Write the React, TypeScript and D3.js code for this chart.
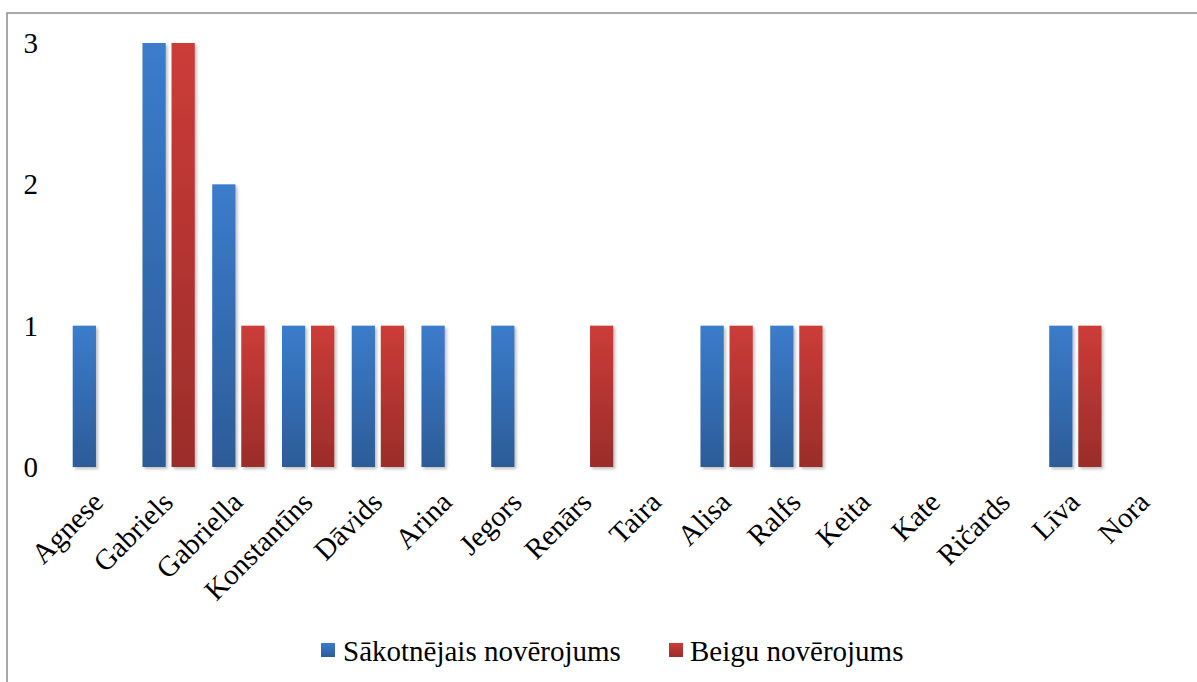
import React from "react";
import * as d3 from "d3";

const categories = ["Agnese", "Gabriels", "Gabriella", "Konstantīns", "Dāvids", "Arina", "Jegors", "Renārs", "Taira", "Alisa", "Ralfs", "Keita", "Kate", "Ričards", "Līva", "Nora"];
const seriesNames = ["Sākotnējais novērojums", "Beigu novērojums"];
const initialValues = [1, 3, 2, 1, 1, 1, 1, 0, 0, 1, 1, 0, 0, 0, 1, 0];
const finalValues = [0, 3, 1, 1, 1, 0, 0, 1, 0, 1, 1, 0, 0, 0, 1, 0];
const yTicks = [0, 1, 2, 3];

const W = 1197;
const H = 682;
const FS = 29;
const textStyle = { fontFamily: '"Liberation Serif", "Times New Roman", serif' };

export default function App() {
  const left = 64, right = 1180, top = 43, bottom = 467;
  const x = d3.scaleBand<string>().domain(categories).range([left, right]).padding(0);
  const xs = d3.scaleBand<string>().domain(["a", "b"]).range([0, x.bandwidth()]).paddingInner(0.2).paddingOuter(0.3);
  const y = d3.scaleLinear().domain([0, 3]).range([bottom, top]);
  const series = [
    { key: "a", name: seriesNames[0], values: initialValues, grad: "gBlue" },
    { key: "b", name: seriesNames[1], values: finalValues, grad: "gRed" },
  ];

  return (
    <svg width={W} height={H} style={{ position: "absolute", left: 0, top: 0, background: "#fff" }}>
      <defs>
        <linearGradient id="gBlue" x1="0" y1="0" x2="0" y2="1">
          <stop offset="0" stopColor="#3b7ccc" />
          <stop offset="1" stopColor="#2c5c98" />
        </linearGradient>
        <linearGradient id="gRed" x1="0" y1="0" x2="0" y2="1">
          <stop offset="0" stopColor="#cc3c38" />
          <stop offset="1" stopColor="#9a2d2a" />
        </linearGradient>
        <filter id="shadow" x="-30%" y="-10%" width="160%" height="130%">
          <feDropShadow dx="2" dy="2" stdDeviation="1.5" floodColor="#000" floodOpacity="0.25" />
        </filter>
      </defs>
      <rect x={7} y={13} width={W} height={H} fill="#fff" stroke="#8c8c8c" strokeWidth={1.5} />
      {yTicks.map((t) => (
        <g key={t}>
          <line x1={left} x2={right} y1={y(t)} y2={y(t)} stroke="#878787" strokeWidth={2} filter="url(#shadow)" />
          <text x={38} y={y(t)} dy="0.35em" textAnchor="end" fontSize={FS} fill="#000" style={textStyle}>{t}</text>
        </g>
      ))}
      {series.map((s) => (
        <g key={s.key} filter="url(#shadow)">
          {categories.map((c, i) =>
            s.values[i] > 0 ? (
              <rect key={c} x={(x(c) ?? 0) + (xs(s.key) ?? 0)} y={y(s.values[i])} width={xs.bandwidth()} height={y(0) - y(s.values[i])} fill={`url(#${s.grad})`} />
            ) : null
          )}
        </g>
      ))}
      {categories.map((c) => {
        const cx = (x(c) ?? 0) + x.bandwidth() / 2 + 6;
        const cy = 504;
        return (
          <text key={c} x={cx} y={cy} transform={`rotate(-45 ${cx} ${cy})`} textAnchor="end" fontSize={FS} fill="#000" style={textStyle}>{c}</text>
        );
      })}
      <g>
        <rect x={321} y={643} width={14} height={14} fill="url(#gBlue)" />
        <text x={343} y={661} fontSize={FS} fill="#000" style={textStyle}>{seriesNames[0]}</text>
        <rect x={669} y={643} width={14} height={14} fill="url(#gRed)" />
        <text x={690} y={661} fontSize={FS} fill="#000" style={textStyle}>{seriesNames[1]}</text>
      </g>
    </svg>
  );
}
